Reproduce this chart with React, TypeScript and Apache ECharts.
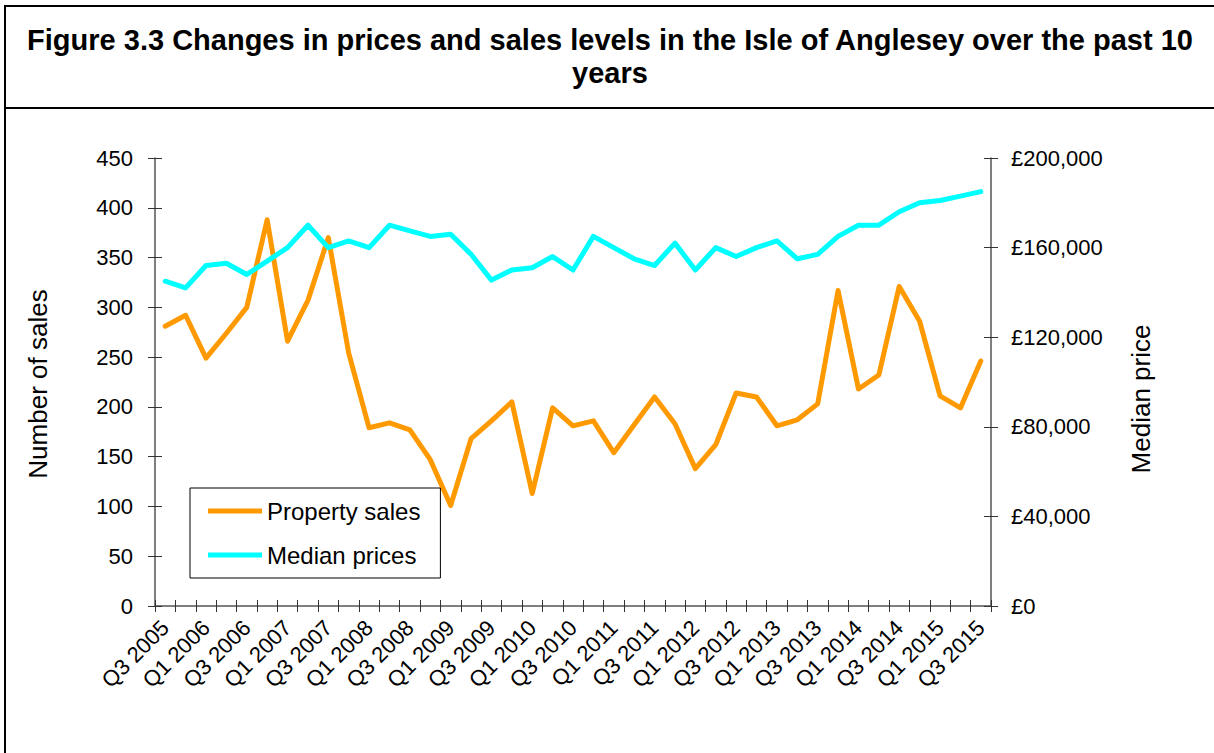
import React, { useEffect, useRef } from "react";
import * as echarts from "echarts";

const FONT = "'Liberation Sans', Arial, sans-serif";

const TITLE = "Figure 3.3 Changes in prices and sales levels in the Isle of Anglesey over the past 10\nyears";

const quarters = [
  "Q3 2005", "Q4 2005",
  "Q1 2006", "Q2 2006", "Q3 2006", "Q4 2006",
  "Q1 2007", "Q2 2007", "Q3 2007", "Q4 2007",
  "Q1 2008", "Q2 2008", "Q3 2008", "Q4 2008",
  "Q1 2009", "Q2 2009", "Q3 2009", "Q4 2009",
  "Q1 2010", "Q2 2010", "Q3 2010", "Q4 2010",
  "Q1 2011", "Q2 2011", "Q3 2011", "Q4 2011",
  "Q1 2012", "Q2 2012", "Q3 2012", "Q4 2012",
  "Q1 2013", "Q2 2013", "Q3 2013", "Q4 2013",
  "Q1 2014", "Q2 2014", "Q3 2014", "Q4 2014",
  "Q1 2015", "Q2 2015", "Q3 2015",
];

const propertySales = [
  281, 292, 249, 274, 300, 388, 266, 307, 370, 254,
  179, 184, 177, 147, 101, 168, 186, 205, 113, 199,
  181, 186, 154, 182, 210, 183, 138, 162, 214, 210,
  181, 187, 203, 317, 218, 232, 321, 286, 211, 199,
  246,
];

const medianPrices = [
  145000, 142000, 152000, 153000, 148000, 154000, 160000, 170000, 160000, 163000,
  160000, 170000, 167500, 165000, 166000, 157000, 145500, 150000, 151000, 156000,
  150000, 165000, 160000, 155000, 152000, 162000, 150000, 160000, 156000, 160000,
  163000, 155000, 157000, 165000, 170000, 170000, 176000, 180000, 181000, 183000,
  185000,
];

const seriesNames = ["Property sales", "Median prices"];
const seriesColors = ["#FF9900", "#00FFFF"];
const leftAxisName = "Number of sales";
const rightAxisName = "Median price";

const AXIS_COLOR = "#555555";
const TICK_COLOR = "#333333";

const money = (v: number) => "£" + String(v).replace(/\B(?=(\d{3})+(?!\d))/g, ",");

export default function App() {
  const ref = useRef<HTMLDivElement>(null);

  useEffect(() => {
    if (!ref.current) return;
    const chart = echarts.init(ref.current, undefined, { renderer: "svg" });
    const tickLine = { color: TICK_COLOR, width: 1 };
    chart.setOption({
      animation: false,
      backgroundColor: "#ffffff",
      grid: { left: 155, right: 223, top: 158, bottom: 147, containLabel: false },
      legend: {
        orient: "vertical",
        left: 190,
        top: 488,
        itemWidth: 54,
        itemHeight: 5,
        itemGap: 16,
        padding: [9, 20, 9, 18],
        borderColor: "#000",
        borderWidth: 1,
        backgroundColor: "#fff",
        textStyle: { fontFamily: FONT, fontSize: 24, color: "#000", lineHeight: 28 },
        data: seriesNames.map((n) => ({ name: n, icon: "rect" })),
      },
      xAxis: [
        {
          type: "category",
          position: "bottom",
          data: quarters,
          boundaryGap: true,
          axisLine: { show: true, lineStyle: { color: AXIS_COLOR, width: 1.5 } },
          axisTick: { show: true, interval: 0, length: 6, lineStyle: tickLine },
          axisLabel: {
            interval: 1,
            rotate: 45,
            margin: 18,
            fontFamily: FONT,
            fontSize: 22,
            color: "#000",
          },
          splitLine: { show: false },
        },
        {
          type: "category",
          position: "bottom",
          data: quarters,
          boundaryGap: true,
          axisLine: { show: false },
          axisTick: { show: true, inside: true, interval: 0, length: 6, lineStyle: tickLine },
          axisLabel: { show: false },
          splitLine: { show: false },
        },
      ],
      yAxis: [
        {
          type: "value",
          position: "left",
          min: 0,
          max: 450,
          interval: 50,
          axisLine: { show: true, lineStyle: { color: AXIS_COLOR, width: 1.5 } },
          axisTick: { show: true, length: 7, lineStyle: tickLine },
          axisLabel: { margin: 22, fontFamily: FONT, fontSize: 22, color: "#000" },
          splitLine: { show: false },
        },
        {
          type: "value",
          position: "right",
          min: 0,
          max: 200000,
          interval: 40000,
          axisLine: { show: true, lineStyle: { color: AXIS_COLOR, width: 1.5 } },
          axisTick: { show: true, length: 7, lineStyle: tickLine },
          axisLabel: {
            margin: 20,
            fontFamily: FONT,
            fontSize: 22,
            color: "#000",
            formatter: money,
          },
          splitLine: { show: false },
        },
        {
          type: "value",
          position: "left",
          min: 0,
          max: 450,
          interval: 50,
          axisLine: { show: false },
          axisTick: { show: true, inside: true, length: 7, lineStyle: tickLine },
          axisLabel: { show: false },
          splitLine: { show: false },
        },
        {
          type: "value",
          position: "right",
          min: 0,
          max: 200000,
          interval: 40000,
          axisLine: { show: false },
          axisTick: { show: true, inside: true, length: 7, lineStyle: tickLine },
          axisLabel: { show: false },
          splitLine: { show: false },
        },
      ],
      series: [
        {
          name: seriesNames[0],
          type: "line",
          xAxisIndex: 0,
          yAxisIndex: 0,
          data: propertySales,
          symbol: "none",
          color: seriesColors[0],
          lineStyle: { width: 5, color: seriesColors[0], join: "round", cap: "round" },
        },
        {
          name: seriesNames[1],
          type: "line",
          xAxisIndex: 0,
          yAxisIndex: 1,
          data: medianPrices,
          symbol: "none",
          color: seriesColors[1],
          lineStyle: { width: 5, color: seriesColors[1], join: "round", cap: "round" },
        },
      ],
      graphic: [
        {
          type: "line",
          shape: { x1: 5, y1: 6, x2: 1214, y2: 6 },
          style: { stroke: "#000", lineWidth: 2 },
          silent: true,
        },
        {
          type: "line",
          shape: { x1: 5, y1: 5, x2: 5, y2: 753 },
          style: { stroke: "#000", lineWidth: 2 },
          silent: true,
        },
        {
          type: "line",
          shape: { x1: 5, y1: 108, x2: 1214, y2: 108 },
          style: { stroke: "#000", lineWidth: 2 },
          silent: true,
        },
        {
          type: "text",
          x: 610,
          y: 23,
          style: {
            text: TITLE,
            fontFamily: FONT,
            fontSize: 29,
            fontWeight: "bold",
            fill: "#000",
            align: "center",
            verticalAlign: "top",
            lineHeight: 33,
          },
          silent: true,
        },
        {
          type: "text",
          x: 38,
          y: 384,
          rotation: Math.PI / 2,
          style: {
            text: leftAxisName,
            fontFamily: FONT,
            fontSize: 26,
            fill: "#000",
            align: "center",
            verticalAlign: "middle",
          },
          silent: true,
        },
        {
          type: "text",
          x: 1141,
          y: 399,
          rotation: Math.PI / 2,
          style: {
            text: rightAxisName,
            fontFamily: FONT,
            fontSize: 26,
            fill: "#000",
            align: "center",
            verticalAlign: "middle",
          },
          silent: true,
        },
      ],
    });
    return () => chart.dispose();
  }, []);

  return (
    <div
      ref={ref}
      style={{ position: "fixed", left: 0, top: 0, width: 1214, height: 753, background: "#fff" }}
    />
  );
}
